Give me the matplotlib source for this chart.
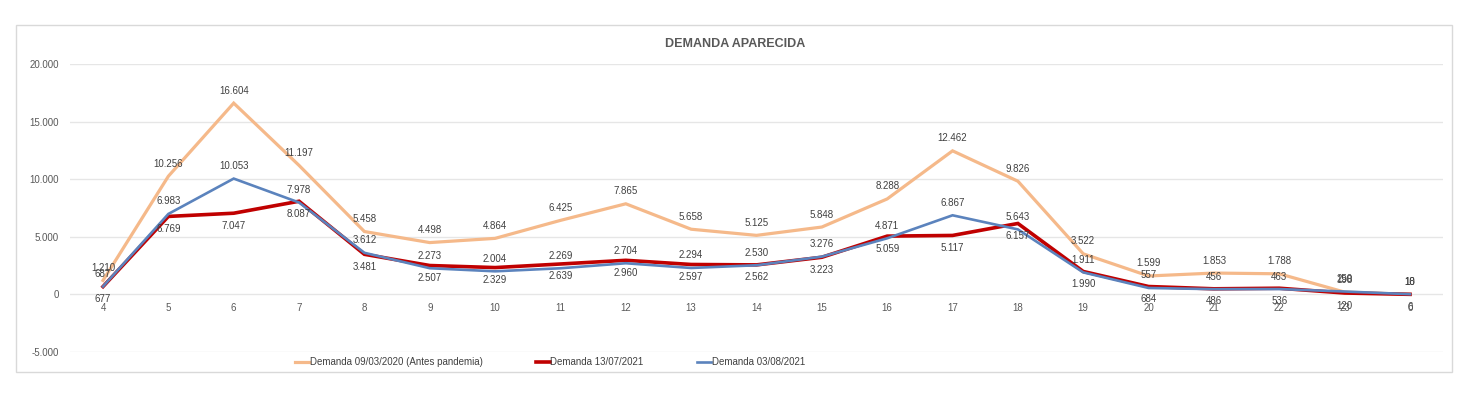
import matplotlib.pyplot as plt
from matplotlib.patches import Rectangle

plt.rcParams['font.family'] = ['Liberation Sans Narrow', 'Liberation Sans', 'DejaVu Sans']

# --- data ---
hours = ["4", "5", "6", "7", "8", "9", "10", "11", "12", "13", "14",
         "15", "16", "17", "18", "19", "20", "21", "22", "23", "0"]
dem_2020 = [1210, 10256, 16604, 11197, 5458, 4498, 4864, 6425, 7865, 5658, 5125,
            5848, 8288, 12462, 9826, 3522, 1599, 1853, 1788, 198, 10]
dem_0721 = [677, 6769, 7047, 8087, 3481, 2507, 2329, 2639, 2960, 2597, 2562,
            3223, 5059, 5117, 6157, 1990, 684, 486, 536, 120, 6]
dem_0821 = [687, 6983, 10053, 7978, 3612, 2273, 2004, 2269, 2704, 2294, 2530,
            3276, 4871, 6867, 5643, 1911, 557, 456, 463, 250, 18]

labels = ["Demanda 09/03/2020 (Antes pandemia)", "Demanda 13/07/2021", "Demanda 03/08/2021"]
colors = ["#F5B98A", "#C00000", "#5B83BD"]
widths = [2.3, 2.6, 1.9]
offsets = [9, -9, 9]   # data label position (points): above / below

W, H = 1478, 396
fig = plt.figure(figsize=(W / 100, H / 100), dpi=100)
fig.patches.append(Rectangle((16 / W, 1 - 372 / H), (1452 - 16) / W, (372 - 25) / H,
                             transform=fig.transFigure, fill=False,
                             edgecolor="#D9D9D9", linewidth=1))

ax = fig.add_axes([70 / W, 1 - 352 / H, (1443 - 70) / W, (352 - 64) / H])
x = list(range(len(hours)))

for vals, lab, col, lw, off in zip([dem_2020, dem_0721, dem_0821], labels, colors, widths, offsets):
    ax.plot(x, vals, color=col, linewidth=lw, label=lab, solid_joinstyle="miter")
    for xi, v in zip(x, vals):
        ax.annotate(f"{v:,}".replace(",", "."), (xi, v), xytext=(0, off),
                    textcoords="offset points", ha="center", va="center",
                    fontsize=7, color="#404040")

ax.set_xlim(-0.505, len(hours) - 1 + 0.505)
ax.set_ylim(-5000, 20000)
yt = [-5000, 0, 5000, 10000, 15000, 20000]
ax.set_yticks(yt)
ax.set_yticklabels([f"{t:,}".replace(",", ".") for t in yt], fontsize=7, color="#595959")
ax.tick_params(axis="y", length=0, pad=8)
ax.set_xticks([])
ax.grid(True, axis="y", color="#E6E6E6", linewidth=1)
ax.set_axisbelow(True)
for s in ax.spines.values():
    s.set_visible(False)

# category labels sit just under the zero line
for xi, h in zip(x, hours):
    ax.annotate(h, (xi, 0), xytext=(0, -10), textcoords="offset points",
                ha="center", va="center", fontsize=7, color="#595959")

fig.text(735 / W, 1 - 44 / H, "DEMANDA APARECIDA", ha="center", va="center",
         fontsize=9, fontweight="bold", color="#595959")

fig.legend(loc="center", bbox_to_anchor=(550 / W, 1 - 362 / H), ncol=3, frameon=False,
           fontsize=7, handlelength=1.4, handletextpad=0.1, columnspacing=5.5,
           labelcolor="#404040")

fig.savefig("out.png", dpi=100)
